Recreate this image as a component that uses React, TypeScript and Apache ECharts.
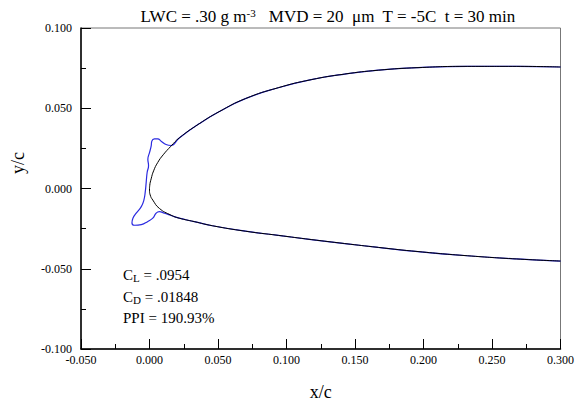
import React, { useEffect, useRef } from "react";
import * as echarts from "echarts";

const airfoilX = [0.300, 0.268, 0.232, 0.196, 0.167, 0.1425, 0.118, 0.094, 0.070, 0.0507, 0.0362, 0.0217, 0.0157, 0.0100, 0.0060, 0.0030, 0.0012, 0.0002, 0.0, 0.0005, 0.0024, 0.0072, 0.0157, 0.0217, 0.0326, 0.0459, 0.070, 0.094, 0.118, 0.1425, 0.167, 0.196, 0.232, 0.268, 0.300];
const airfoilY = [0.0757, 0.0761, 0.0761, 0.0753, 0.0737, 0.0713, 0.0678, 0.0628, 0.0560, 0.0478, 0.0403, 0.0315, 0.0264, 0.0210, 0.0162, 0.0110, 0.0060, 0.0020, -0.0010, -0.0040, -0.0072, -0.0124, -0.0166, -0.0185, -0.0206, -0.0232, -0.0266, -0.0292, -0.0318, -0.0343, -0.0367, -0.0393, -0.0419, -0.0439, -0.0452];

const iceX = [0.0157, 0.0121, 0.0085, 0.0060, 0.0036, 0.0017, 0.0012, 0.0, -0.0012, -0.0007, -0.0017, -0.0024, -0.0031, -0.0041, -0.0060, -0.0097, -0.0121, -0.0128, -0.0109, -0.0060, -0.0012, 0.0024, 0.0048, 0.0072, 0.0109, 0.0157];
const iceY = [0.0268, 0.0274, 0.0295, 0.0309, 0.0309, 0.0295, 0.0264, 0.0223, 0.0182, 0.0142, 0.0101, 0.0040, -0.0021, -0.0072, -0.0113, -0.0154, -0.0185, -0.0215, -0.0229, -0.0225, -0.0205, -0.0185, -0.0154, -0.0144, -0.0154, -0.0168];

const annotations = ["C{sub|L} = .0954", "C{sub|D} = .01848", "PPI = 190.93%"];
const titleText = "LWC = .30 g m{sup|-3}   MVD = 20  \u03bcm  T = -5C  t = 30 min";

const FONT = "Liberation Serif";

export default function App() {
  const ref = useRef<HTMLDivElement>(null);
  useEffect(() => {
    if (!ref.current) return;
    const chart = echarts.init(ref.current, undefined, { renderer: "svg" });
    const airfoil = airfoilX.map((x, i) => [x, airfoilY[i]]);
    const upperIdx = 12;
    const lowerIdx = 22;
    const ice = [
      ...airfoil.slice(0, upperIdx),
      ...iceX.map((x, i) => [x, iceY[i]]),
      ...airfoil.slice(lowerIdx + 1),
    ];
    chart.setOption({
      animation: false,
      textStyle: { fontFamily: FONT },
      title: {
        text: titleText,
        left: 323,
        textAlign: "center",
        top: 2,
        textStyle: {
          fontFamily: FONT,
          fontSize: 17,
          fontWeight: "normal",
          color: "#000",
          rich: {
            sup: { fontFamily: FONT, fontSize: 11, verticalAlign: "top", padding: [0, 0, 7, 0], color: "#000" },
          },
        },
      },
      grid: {
        left: 81,
        right: 13,
        top: 28,
        bottom: 51,
        show: true,
        borderColor: "#777",
        borderWidth: 1,
        backgroundColor: "transparent",
      },
      xAxis: {
        type: "value",
        min: -0.05,
        max: 0.3,
        interval: 0.05,
        name: "x/c",
        nameLocation: "middle",
        nameGap: 34,
        nameTextStyle: { fontFamily: FONT, fontSize: 18, color: "#000" },
        axisLine: { show: true, onZero: false, lineStyle: { color: "#000", width: 1.5 } },
        axisTick: { show: true, inside: true, length: 10, lineStyle: { color: "#000", width: 1 } },
        minorTick: { show: true, splitNumber: 2, length: 5, lineStyle: { color: "#000", width: 1 } },
        splitLine: { show: false },
        axisLabel: {
          fontFamily: FONT,
          fontSize: 12,
          color: "#000",
          margin: 5,
          formatter: (v: number) => v.toFixed(3),
        },
      },
      yAxis: {
        type: "value",
        min: -0.1,
        max: 0.1,
        interval: 0.05,
        axisLine: { show: true, onZero: false, lineStyle: { color: "#000", width: 1.5 } },
        axisTick: { show: true, inside: true, length: 10, lineStyle: { color: "#000", width: 1 } },
        minorTick: { show: true, splitNumber: 2, length: 5, lineStyle: { color: "#000", width: 1 } },
        splitLine: { show: false },
        axisLabel: {
          fontFamily: FONT,
          fontSize: 12,
          color: "#000",
          margin: 9,
          formatter: (v: number) => v.toFixed(3),
        },
      },
      graphic: [
        {
          type: "text",
          x: 18,
          y: 163,
          rotation: Math.PI / 2,
          style: {
            text: "y/c",
            fontFamily: FONT,
            fontSize: 18,
            fill: "#000",
            align: "center",
            verticalAlign: "middle",
          },
        },
        ...annotations.map((t, i) => ({
          type: "text",
          x: 123,
          y: 275 + i * 21.5,
          style: {
            text: t,
            fontFamily: FONT,
            fontSize: 15,
            fill: "#000",
            verticalAlign: "middle",
            rich: {
              sub: { fontFamily: FONT, fontSize: 11, fill: "#000", padding: [6, 0, 0, 0] },
            },
          },
        })),
      ],
      series: [
        {
          type: "line",
          data: ice,
          showSymbol: false,
          smooth: 0.5,
          lineStyle: { color: "#2a2ae0", width: 1.2 },
          z: 2,
        },
        {
          type: "line",
          data: airfoil,
          showSymbol: false,
          smooth: 0.5,
          lineStyle: { color: "#000", width: 1 },
          z: 3,
        },
      ],
    });
    return () => chart.dispose();
  }, []);
  return (
    <div
      ref={ref}
      style={{ position: "absolute", left: 0, top: 0, width: 577, height: 406 }}
    />
  );
}
